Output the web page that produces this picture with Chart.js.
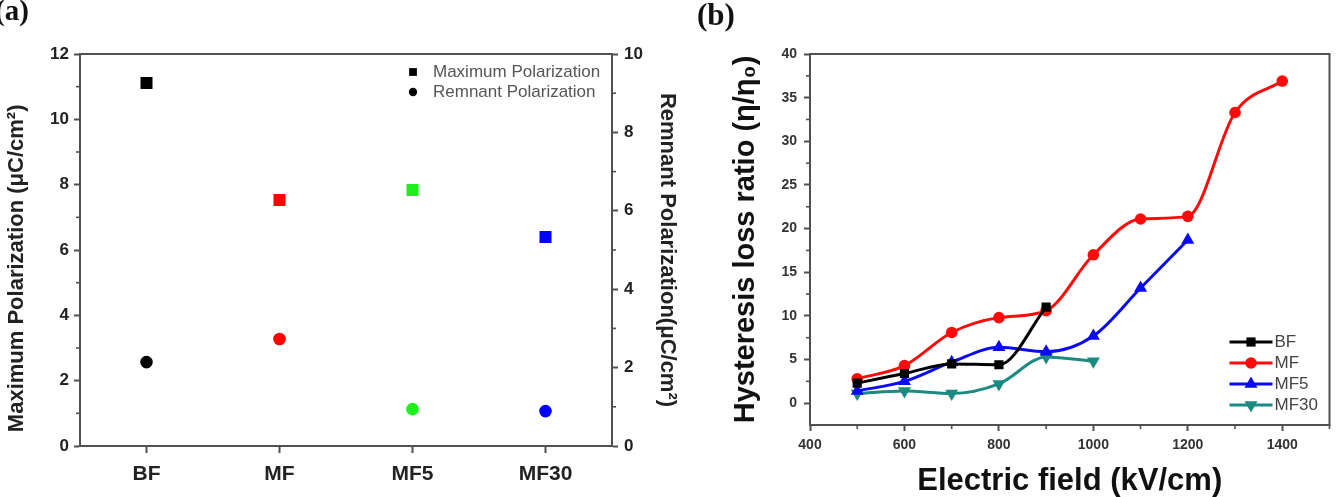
<!DOCTYPE html>
<html>
<head>
<meta charset="utf-8">
<script src="https://cdn.jsdelivr.net/npm/chart.js@4.4.1/dist/chart.umd.min.js"></script>
<style>
  html, body { margin: 0; padding: 0; background: #fff; }
  #wrap { position: relative; width: 1337px; height: 497px; overflow: hidden; background: #fff; }
  canvas { position: absolute; top: 0; }
  .panel { position: absolute; font-family: 'Liberation Serif', 'Times New Roman', serif; font-weight: bold; color: #111; line-height: 1; }
</style>
</head>
<body>
<div id="wrap">
  <canvas id="ca" width="700" height="497" style="left:0;width:700px;height:497px"></canvas>
  <canvas id="cb" width="637" height="497" style="left:700px;width:637px;height:497px"></canvas>
  <div class="panel" style="left:-5px;top:-4px;font-size:29px">(a)</div>
  <div class="panel" style="left:697px;top:-1px;font-size:31px">(b)</div>
</div>
<script>
// ---------- data: panel (a) ----------
const CATEGORIES = ['BF', 'MF', 'MF5', 'MF30'];
const MAX_POLARIZATION = [11.11, 7.53, 7.84, 6.40];
const REMNANT_POLARIZATION = [2.14, 2.73, 0.94, 0.89];
const A_LEFT_TICKS = [0, 2, 4, 6, 8, 10, 12];
const A_LEFT_MINOR = [1, 3, 5, 7, 9, 11];
const A_RIGHT_TICKS = [0, 2, 4, 6, 8, 10];
const A_RIGHT_MINOR = [1, 3, 5, 7, 9];

// ---------- data: panel (b) ----------
const FIELD_BF = [500, 600, 700, 800, 900];
const RATIO_BF = [2.3, 3.4, 4.5, 4.4, 11.0];
const FIELD_MF = [500, 600, 700, 800, 900, 1000, 1100, 1200, 1300, 1400];
const RATIO_MF = [2.8, 4.3, 8.1, 9.8, 10.6, 17.0, 21.1, 21.4, 33.3, 36.9];
const FIELD_MF5 = [500, 600, 700, 800, 900, 1000, 1100, 1200];
const RATIO_MF5 = [1.4, 2.5, 4.7, 6.4, 5.9, 7.7, 13.2, 18.7];
const FIELD_MF30 = [500, 600, 700, 800, 900, 1000];
const RATIO_MF30 = [1.1, 1.4, 1.1, 2.2, 5.3, 4.8];
const B_X_TICKS = [400, 600, 800, 1000, 1200, 1400];
const B_X_MINOR = [500, 700, 900, 1100, 1300, 1500];
const B_Y_TICKS = [0, 5, 10, 15, 20, 25, 30, 35, 40];
const B_Y_MINOR = [2.5, 7.5, 12.5, 17.5, 22.5, 27.5, 32.5, 37.5];

// ---------- styling ----------
const SANS = "'Liberation Sans', Arial, sans-serif";
const AXIS = '#505050';
const POINT_COLORS = ['#000000', '#ff0000', '#1ef01e', '#0000ff'];

function pts(xs, ys) { return xs.map((x, i) => ({ x: x, y: ys[i] })); }
function setTicks(arr) { return function (s) { s.ticks = arr.map(v => ({ value: v })); }; }
const plain = v => String(v);

function marker(ctx, style, radius, rotation, x, y) {
  if (Chart.helpers && Chart.helpers.drawPoint) {
    Chart.helpers.drawPoint(ctx, { pointStyle: style, radius: radius, rotation: rotation || 0, borderWidth: 0 }, x, y);
  } else {
    ctx.beginPath(); ctx.arc(x, y, radius, 0, Math.PI * 2); ctx.fill();
  }
}

function decor(cfg) {
  return {
    id: 'decor_' + cfg.name,
    afterDatasetsDraw(chart) {
      const ctx = chart.ctx, a = chart.chartArea;
      ctx.save();
      ctx.strokeStyle = AXIS; ctx.lineWidth = 2;
      ctx.strokeRect(a.left, a.top, a.right - a.left, a.bottom - a.top);
      ctx.lineWidth = 1.6;
      cfg.minor.forEach(m => {
        const s = chart.scales[m.axis];
        m.values.forEach(v => {
          const p = s.getPixelForValue(v);
          ctx.beginPath();
          if (s.isHorizontal()) { ctx.moveTo(p, a.bottom); ctx.lineTo(p, a.bottom + m.len); }
          else if (s.position === 'left') { ctx.moveTo(a.left, p); ctx.lineTo(a.left - m.len, p); }
          else { ctx.moveTo(a.right, p); ctx.lineTo(a.right + m.len, p); }
          ctx.stroke();
        });
      });
      cfg.legend(chart, ctx);
      ctx.restore();
    }
  };
}

// ---------- chart (a) ----------
new Chart(document.getElementById('ca'), {
  type: 'line',
  data: {
    labels: CATEGORIES,
    datasets: [
      { label: 'Maximum Polarization', data: MAX_POLARIZATION, yAxisID: 'y', showLine: false,
        pointStyle: 'rect', pointRadius: 8.5, pointHoverRadius: 8.5, pointBorderWidth: 0,
        pointBackgroundColor: POINT_COLORS, pointBorderColor: POINT_COLORS },
      { label: 'Remnant Polarization', data: REMNANT_POLARIZATION, yAxisID: 'y2', showLine: false,
        pointStyle: 'circle', pointRadius: 6.3, pointHoverRadius: 6.3, pointBorderWidth: 0,
        pointBackgroundColor: POINT_COLORS, pointBorderColor: POINT_COLORS }
    ]
  },
  options: {
    responsive: false, animation: false, devicePixelRatio: 1,
    layout: { padding: { top: 54, left: 0, right: 0, bottom: 0 } },
    plugins: { legend: { display: false }, tooltip: { enabled: false } },
    scales: {
      x: {
        type: 'category', offset: true,
        grid: { drawOnChartArea: false, offset: false, tickLength: 7, tickColor: AXIS, tickWidth: 2 },
        border: { color: AXIS, width: 2 },
        ticks: { color: '#222', padding: 9, font: { family: SANS, size: 21, weight: 'bold' } },
        afterFit: s => { s.height = 51; }
      },
      y: {
        position: 'left', min: 0, max: 12, afterBuildTicks: setTicks(A_LEFT_TICKS),
        grid: { drawOnChartArea: false, tickLength: 6, tickColor: AXIS, tickWidth: 2 },
        border: { color: AXIS, width: 2 },
        ticks: { color: '#222', padding: 5, callback: plain, font: { family: SANS, size: 17, weight: 'bold' } },
        title: { display: true, text: 'Maximum Polarization (μC/cm²)      ', color: '#222',
                 font: { family: SANS, size: 22, weight: 'bold', lineHeight: 1 }, padding: { top: 5.5, bottom: 0 } },
        afterFit: s => { s.width = 80; }
      },
      y2: {
        position: 'right', min: 0, max: 10, afterBuildTicks: setTicks(A_RIGHT_TICKS),
        grid: { drawOnChartArea: false, tickLength: 6, tickColor: AXIS, tickWidth: 2 },
        border: { color: AXIS, width: 2 },
        ticks: { color: '#222', padding: 6, callback: plain, font: { family: SANS, size: 17, weight: 'bold' } },
        title: { display: true, text: 'Remnant Polarization(μC/cm²)', color: '#222',
                 font: { family: SANS, size: 22, weight: 'bold', lineHeight: 1 }, padding: { top: 22, bottom: 0 } },
        afterFit: s => { s.width = 88; }
      }
    }
  },
  plugins: [decor({
    name: 'a',
    minor: [{ axis: 'y', values: A_LEFT_MINOR, len: 4 }, { axis: 'y2', values: A_RIGHT_MINOR, len: 4 }],
    legend: (chart, ctx) => {
      const a = chart.chartArea;
      const x0 = a.right - 199, y0 = a.top + 18, dy = 20;
      ctx.font = '17px ' + SANS; ctx.textBaseline = 'middle'; ctx.textAlign = 'left';
      chart.data.datasets.forEach((d, i) => {
        const y = y0 + i * dy;
        ctx.fillStyle = '#000';
        marker(ctx, d.pointStyle, d.pointStyle === 'rect' ? 5.5 : 4.2, 0, x0, y);
        ctx.fillStyle = '#555';
        ctx.fillText(d.label, x0 + 20, y);
      });
    }
  })]
});

// ---------- chart (b) ----------
const common = { borderWidth: 3, cubicInterpolationMode: 'monotone', pointBorderWidth: 0, fill: false };
new Chart(document.getElementById('cb'), {
  type: 'line',
  data: {
    datasets: [
      Object.assign({ label: 'BF', data: pts(FIELD_BF, RATIO_BF), borderColor: '#000000', backgroundColor: '#000000',
        pointStyle: 'rect', pointRadius: 6.5, pointHoverRadius: 6.5 }, common),
      Object.assign({ label: 'MF', data: pts(FIELD_MF, RATIO_MF), borderColor: '#ff0a0a', backgroundColor: '#ff0a0a',
        pointStyle: 'circle', pointRadius: 5.8, pointHoverRadius: 5.8 }, common),
      Object.assign({ label: 'MF5', data: pts(FIELD_MF5, RATIO_MF5), borderColor: '#0a0af5', backgroundColor: '#0a0af5',
        pointStyle: 'triangle', pointRadius: 7.5, pointHoverRadius: 7.5 }, common),
      Object.assign({ label: 'MF30', data: pts(FIELD_MF30, RATIO_MF30), borderColor: '#1b8a82', backgroundColor: '#1b8a82',
        pointStyle: 'triangle', rotation: 180, pointRotation: 180, pointRadius: 7.5, pointHoverRadius: 7.5 }, common)
    ]
  },
  options: {
    responsive: false, animation: false, devicePixelRatio: 1,
    layout: { padding: { top: 54, left: 0, right: 7, bottom: 0 } },
    plugins: { legend: { display: false }, tooltip: { enabled: false } },
    scales: {
      x: {
        type: 'linear', min: 400, max: 1500, afterBuildTicks: setTicks(B_X_TICKS),
        grid: { drawOnChartArea: false, tickLength: 6, tickColor: AXIS, tickWidth: 2 },
        border: { color: AXIS, width: 2 },
        ticks: { color: '#333', padding: 6, callback: plain, font: { family: SANS, size: 14, weight: 'bold' } },
        title: { display: true, text: 'Electric field (kV/cm)', color: '#111',
                 font: { family: SANS, size: 31, weight: 'bold', lineHeight: 1 }, padding: { top: 0, bottom: 0.5 } },
        afterFit: s => { s.height = 72; }
      },
      y: {
        type: 'linear', min: -2.5, max: 40, afterBuildTicks: setTicks(B_Y_TICKS),
        grid: { drawOnChartArea: false, tickLength: 6, tickColor: AXIS, tickWidth: 2 },
        border: { color: AXIS, width: 2 },
        ticks: { color: '#333', padding: 7, callback: plain, font: { family: SANS, size: 14, weight: 'bold' } },
        title: { display: true, text: 'Hysteresis loss ratio (η/η₀)', color: '#111',
                 font: { family: SANS, size: 29, weight: 'bold', lineHeight: 1 }, padding: { top: 31.5, bottom: 0 } },
        afterFit: s => { s.width = 110; }
      }
    }
  },
  plugins: [decor({
    name: 'b',
    minor: [{ axis: 'x', values: B_X_MINOR, len: 4 }, { axis: 'y', values: B_Y_MINOR, len: 4 }],
    legend: (chart, ctx) => {
      const a = chart.chartArea;
      const x0 = a.right - 100, x1 = a.right - 57, y0 = 342, dy = 21;
      ctx.font = '17px ' + SANS; ctx.textBaseline = 'middle'; ctx.textAlign = 'left';
      chart.data.datasets.forEach((d, i) => {
        const y = y0 + i * dy;
        ctx.strokeStyle = d.borderColor; ctx.lineWidth = 3;
        ctx.beginPath(); ctx.moveTo(x0, y); ctx.lineTo(x1, y); ctx.stroke();
        ctx.fillStyle = d.backgroundColor;
        marker(ctx, d.pointStyle, d.pointRadius, d.pointRotation || 0, (x0 + x1) / 2, y);
        ctx.fillStyle = '#444';
        ctx.fillText(d.label, x1 + 2, y);
      });
    }
  })]
});
</script>
</body>
</html>
